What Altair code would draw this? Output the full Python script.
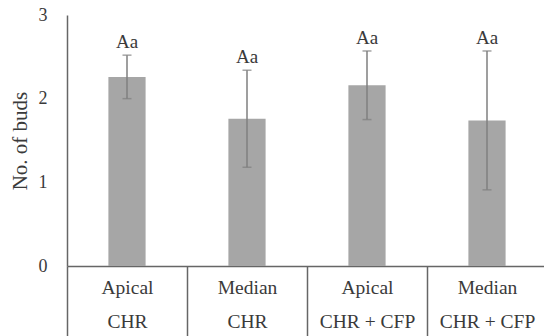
import altair as alt
import pandas as pd

# Bud position / treatment groups ("|" splits the two label lines)
positions = ["Apical|CHR", "Median|CHR", "Apical|CHR + CFP", "Median|CHR + CFP"]
means = [2.26, 1.76, 2.16, 1.74]
sd = [0.26, 0.58, 0.41, 0.83]
letters = ["Aa", "Aa", "Aa", "Aa"]

df = pd.DataFrame({
    "position": positions,
    "mean": means,
    "lower": [m - s for m, s in zip(means, sd)],
    "upper": [m + s for m, s in zip(means, sd)],
    "letters": letters,
})

FONT = "Liberation Serif"
TEXT = "#3a3a3a"
LINE = "#666666"
ERR = "#7f7f7f"

x = alt.X(
    "position:N",
    sort=positions,
    scale=alt.Scale(range=[0, 480], paddingInner=0, paddingOuter=0),
    axis=alt.Axis(
        title=None,
        labelExpr="split(datum.label, '|')",
        labelAngle=0,
        labelFont=FONT,
        labelFontSize=19.5,
        labelColor=TEXT,
        labelLineHeight=34,
        labelPadding=-58,
        tickBand="extent",
        tickSize=70,
        tickColor=LINE,
        tickWidth=1.5,
        domainColor=LINE,
        domainWidth=1.5,
    ),
)

y_scale = alt.Scale(domain=[0, 3], nice=False)
y_axis = alt.Axis(
    title="No. of buds",
    values=[0, 1, 2, 3],
    format="d",
    ticks=False,
    grid=False,
    labelFont=FONT,
    labelFontSize=18,
    labelColor=TEXT,
    labelPadding=20,
    titleFont=FONT,
    titleFontSize=21,
    titleFontWeight="normal",
    titleColor=TEXT,
    titlePadding=8,
    domainColor=LINE,
    domainWidth=1.5,
)

base = alt.Chart(df)

bars = base.mark_bar(color="#a6a6a6", width=alt.RelativeBandSize(0.31)).encode(
    x=x,
    y=alt.Y("mean:Q", scale=y_scale, axis=y_axis),
)

err_rule = base.mark_rule(color=ERR, strokeWidth=1.5).encode(
    x=alt.X("position:N", sort=positions),
    y="lower:Q",
    y2="upper:Q",
)

cap_top = base.mark_tick(orient="horizontal", size=9, thickness=1.5, color=ERR).encode(
    x=alt.X("position:N", sort=positions),
    y="upper:Q",
)

cap_bottom = base.mark_tick(orient="horizontal", size=9, thickness=1.5, color=ERR).encode(
    x=alt.X("position:N", sort=positions),
    y="lower:Q",
)

labels = base.mark_text(
    baseline="bottom", dy=-3, font=FONT, fontSize=19, color=TEXT
).encode(
    x=alt.X("position:N", sort=positions),
    y="upper:Q",
    text="letters:N",
)

chart = (
    alt.layer(bars, err_rule, cap_top, cap_bottom, labels)
    .properties(
        width=477,
        height=251,
        autosize=alt.AutoSizeParams(type="none"),
        padding={"left": 67, "top": 15, "right": 0, "bottom": 70},
        background="white",
    )
    .configure_view(stroke=None)
)

chart.save("out.html", embed_options={"renderer": "svg", "actions": False})
